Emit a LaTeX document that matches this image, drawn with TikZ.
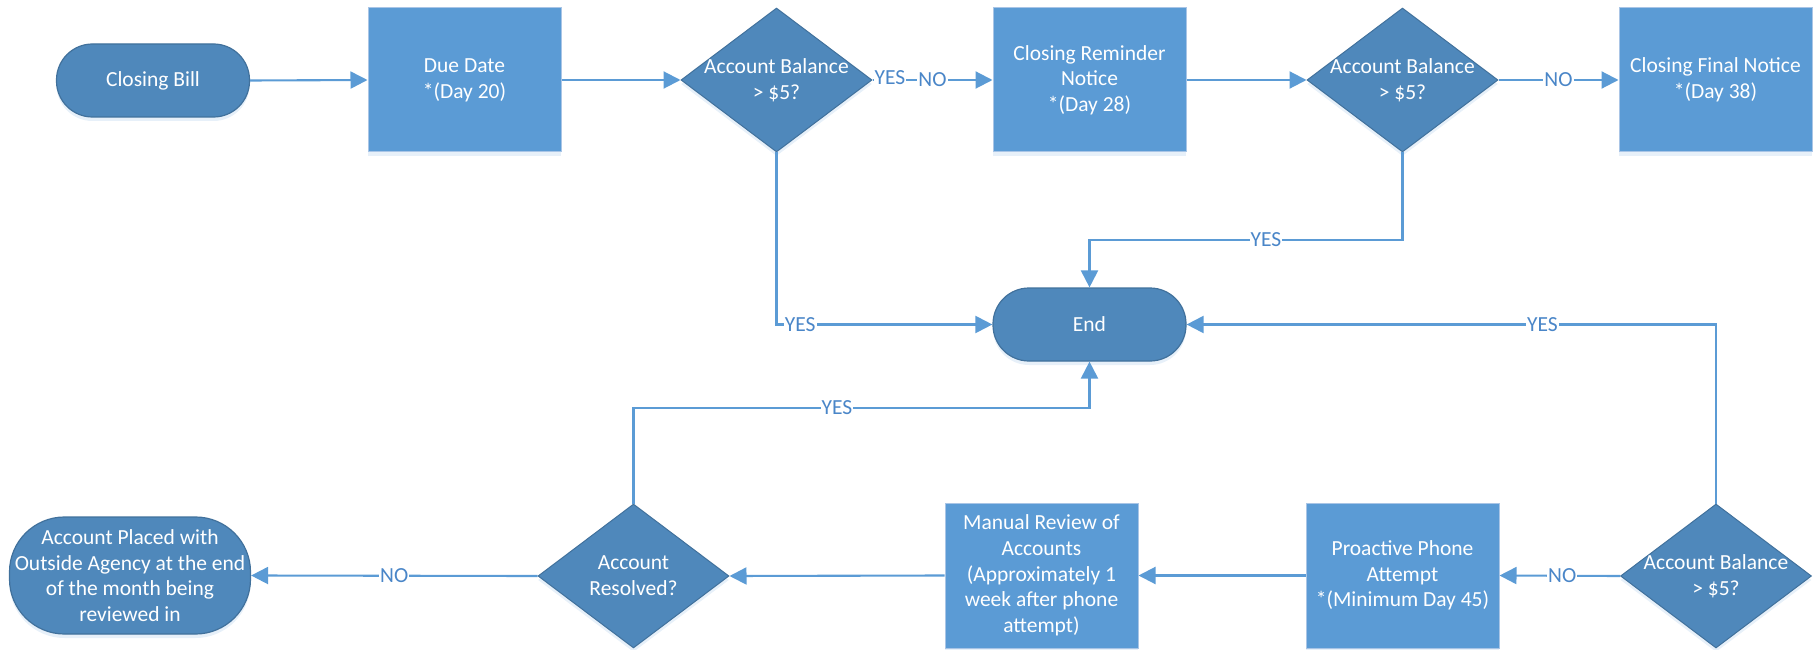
\documentclass[tikz,border=0pt]{standalone}
\usepackage{fontspec}
\setmainfont{Carlito}
\usetikzlibrary{shapes.geometric,arrows.meta,shadows}
\definecolor{rectfill}{HTML}{5B9BD5}
\definecolor{rectline}{HTML}{A9C5E6}
\definecolor{darkfill}{HTML}{4F88BB}
\definecolor{darkline}{HTML}{41719C}
\definecolor{conn}{HTML}{5B9BD5}
\definecolor{lbltext}{HTML}{4A86C8}
\tikzset{
  shad/.style={drop shadow={shadow xshift=0pt,shadow yshift=-4pt,opacity=0.15,fill=rectfill}},
  procbox/.style={rectangle,fill=rectfill,draw=rectline,line width=1pt,minimum width=193pt,minimum height=144pt,inner sep=0pt,text=white,align=center,font=\fontsize{21.5}{25.7}\selectfont,shad},
  pill/.style={rectangle,rounded corners=36pt,fill=darkfill,draw=darkline,line width=1.2pt,minimum width=193pt,minimum height=73pt,inner sep=0pt,text=white,align=center,font=\fontsize{21.5}{25.7}\selectfont,shad},
  dia/.style={diamond,fill=darkfill,draw=darkline,line width=1pt,minimum width=191pt,minimum height=144pt,inner sep=0pt,shad},
  diatext/.style={text=white,align=center,inner sep=0pt,font=\fontsize{21.5}{25.7}\selectfont},
  conn/.style={draw=conn,line width=2.1pt,-{Triangle[length=17pt,width=17pt]}},
  lbl/.style={fill=white,text=lbltext,inner sep=1pt,font=\fontsize{21.5}{24}\selectfont}
}
\begin{document}
\begin{tikzpicture}[x=1pt,y=-1pt]
\useasboundingbox (0,0) rectangle (1813,650);
% top row
\node[pill] (cb) at (153,80.5) {Closing Bill};
\node[procbox] (dd) at (464.5,80) {Due Date\\*(Day 20)};
\node[dia] (d1) at (776.5,80) {};
\node[diatext] (d1t) at (d1) {Account Balance\\> \$5?};
\node[procbox] (cr) at (1089.5,80) {Closing Reminder\\Notice\\*(Day 28)};
\node[dia] (d2) at (1402.5,80) {};
\node[diatext] (d2t) at (d2) {Account Balance\\> \$5?};
\node[procbox] (cf) at (1715.5,80) {Closing Final Notice\\*(Day 38)};
% middle
\node[pill] (end) at (1089.5,324.5) {End};
% bottom row
\node[pill,rounded corners=55pt,minimum width=241pt,minimum height=117pt] (ag) at (130,575.5) {Account Placed with\\Outside Agency at the end\\of the month being\\reviewed in};
\node[dia] (d4) at (633.5,576) {};
\node[diatext] (d4t) at (d4) {Account\\Resolved?};
\node[procbox,minimum height=145pt] (mr) at (1041.5,575.5) {Manual Review of\\Accounts\\(Approximately 1\\week after phone\\attempt)};
\node[procbox,minimum height=145pt] (pp) at (1402.5,575.5) {Proactive Phone\\Attempt\\*(Minimum Day 45)};
\node[dia] (d3) at (1716,576) {};
\node[diatext] (d3t) at (d3) {Account Balance\\> \$5?};
% connectors
\draw[conn] (cb.east) -- (dd.west);
\draw[conn] (dd.east) -- (d1.west);
\draw[conn] (d1.east) -- node[pos=0,anchor=west,lbl,yshift=2pt] (y0) {YES} node[pos=0.5,lbl] (n0) {NO} (cr.west);
\draw[conn] (cr.east) -- (d2.west);
\draw[conn] (d2.east) -- node[pos=0.5,lbl] (n1) {NO} (cf.west);
\draw[conn] (d1.south) |- node[pos=0.555,lbl] (y1) {YES} (end.west);
\draw[conn] (d2.south) -- (d2.south |- 0,240) -| node[pos=0.218,lbl] (y2) {YES} (end.north);
\draw[conn] (d3.north) |- node[pos=0.664,lbl] (y3) {YES} (end.east);
\draw[conn] (d3.west) -- node[pos=0.48,lbl] (n2) {NO} (pp.east);
\draw[conn] (pp.west) -- (mr.east);
\draw[conn] (mr.west) -- (d4.east);
\draw[conn] (d4.north) -- (d4.north |- 0,408) -| node[pos=0.223,lbl] (y4) {YES} (end.south);
\draw[conn] (d4.west) -- node[pos=0.5,lbl] (n3) {NO} (ag.east);
\end{tikzpicture}
\end{document}
